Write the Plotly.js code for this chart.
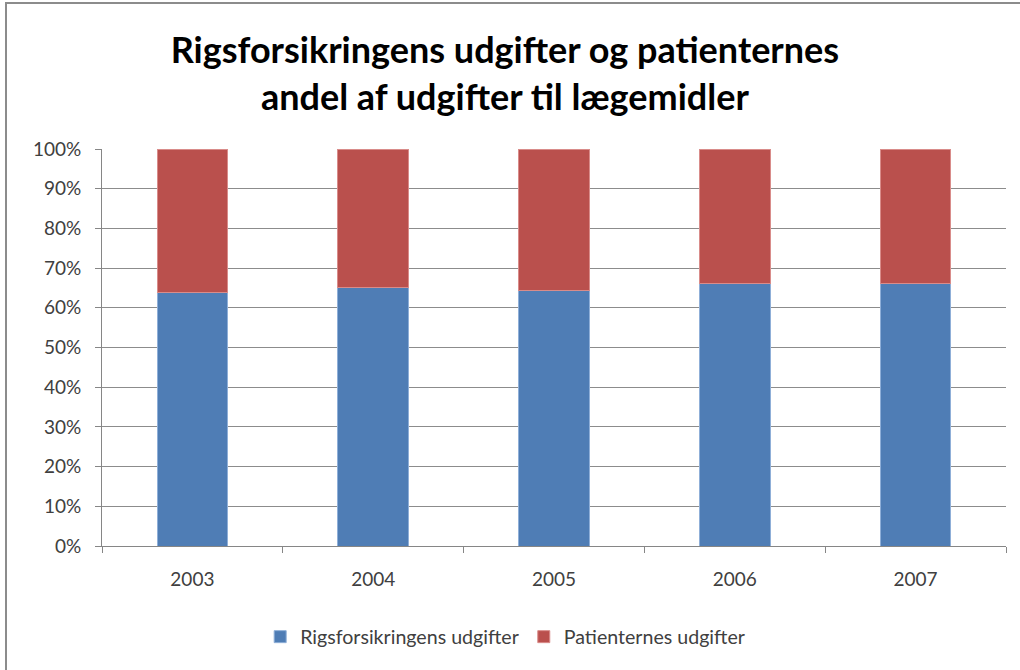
<!DOCTYPE html>
<html>
<head>
<meta charset="utf-8">
<script src="https://cdn.plot.ly/plotly-3.0.1.min.js"></script>
<style>
  html, body { margin: 0; padding: 0; background: #fff; }
  #wrap { position: relative; width: 1020px; height: 670px; overflow: hidden; }
  #chart { width: 1020px; height: 670px; }
  #frame { position: absolute; left: 5px; top: 2px; width: 1100px; height: 800px;
           border-left: 2px solid #8c8c8c; border-top: 2px solid #8c8c8c; pointer-events: none; }
</style>
</head>
<body>
<div id="wrap">
  <div id="chart"></div>
  <div id="frame"></div>
</div>
<script>
const years = ["2003", "2004", "2005", "2006", "2007"];
const rigsforsikringen = [63.8, 65.0, 64.3, 66.2, 66.2];
const patienterne = [36.2, 35.0, 35.7, 33.8, 33.8];
const yTickVals = [0, 10, 20, 30, 40, 50, 60, 70, 80, 90, 100];
const yTickText = ["0%", "10%", "20%", "30%", "40%", "50%", "60%", "70%", "80%", "90%", "100%"];

const FONT = "Lato, 'Open Sans', sans-serif";

const data = [
  {
    type: "bar", name: "Rigsforsikringens udgifter",
    x: years, y: rigsforsikringen,
    marker: { color: "#4F7DB5", line: { color: "#8FAFD8", width: 1 } },
    hoverinfo: "skip"
  },
  {
    type: "bar", name: "Patienternes udgifter",
    x: years, y: patienterne,
    marker: { color: "#BA504D", line: { color: "#D98C8A", width: 1 } },
    hoverinfo: "skip"
  }
];

const layout = {
  width: 1020, height: 670,
  paper_bgcolor: "#ffffff", plot_bgcolor: "#ffffff",
  margin: { l: 102, r: 14, t: 149, b: 124 },
  barmode: "stack",
  bargap: 0.61,
  title: {
    text: "Rigsforsikringens udgifter og patienternes<br>andel af udgifter til lægemidler",
    font: { family: FONT, size: 36, color: "#000000", weight: "bold" },
    x: 0.495, xanchor: "center", y: 0.906, yanchor: "middle"
  },
  font: { family: FONT, size: 19, color: "#404040" },
  xaxis: {
    type: "category",
    showgrid: false,
    showline: true, linecolor: "#868686", linewidth: 1,
    ticks: "outside", tickson: "boundaries", ticklen: 6, tickcolor: "#868686",
    tickfont: { family: FONT, size: 19, color: "#404040" },
    ticklabelstandoff: 16,
    fixedrange: true
  },
  yaxis: {
    range: [0, 100],
    tickvals: yTickVals, ticktext: yTickText,
    showgrid: true, gridcolor: "#8c8c8c", gridwidth: 1,
    showline: true, linecolor: "#868686", linewidth: 1,
    ticks: "outside", ticklen: 6, tickcolor: "#868686",
    tickfont: { family: FONT, size: 19, color: "#404040" },
    ticklabelstandoff: 10,
    zeroline: false,
    fixedrange: true
  },
  showlegend: true,
  legend: {
    orientation: "h", x: 0.446, xanchor: "center", y: -0.229, yanchor: "middle",
    font: { family: FONT, size: 19.6, color: "#404040" },
    traceorder: "normal", itemwidth: 30
  }
};

Plotly.newPlot("chart", data, layout, { displayModeBar: false, staticPlot: true });
</script>
</body>
</html>
